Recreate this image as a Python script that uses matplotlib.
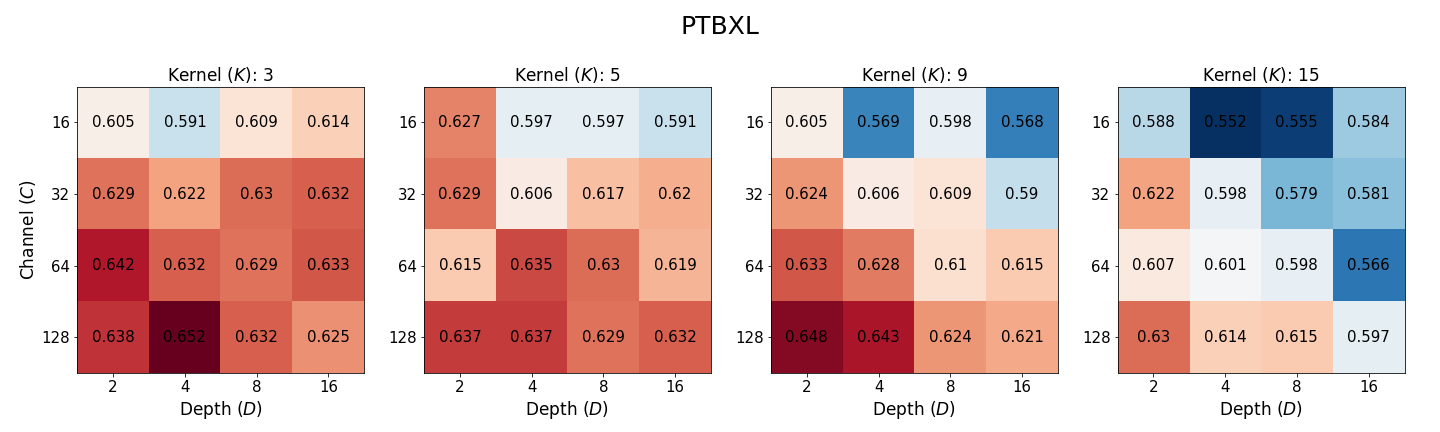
import matplotlib
matplotlib.use("Agg")
import matplotlib.pyplot as plt
import numpy as np

depths = ["2", "4", "8", "16"]
channels = ["16", "32", "64", "128"]
kernels = ["3", "5", "9", "15"]

k3 = [[0.605, 0.591, 0.609, 0.614],
      [0.629, 0.622, 0.63, 0.632],
      [0.642, 0.632, 0.629, 0.633],
      [0.638, 0.652, 0.632, 0.625]]
k5 = [[0.627, 0.597, 0.597, 0.591],
      [0.629, 0.606, 0.617, 0.62],
      [0.615, 0.635, 0.63, 0.619],
      [0.637, 0.637, 0.629, 0.632]]
k9 = [[0.605, 0.569, 0.598, 0.568],
      [0.624, 0.606, 0.609, 0.59],
      [0.633, 0.628, 0.61, 0.615],
      [0.648, 0.643, 0.624, 0.621]]
k15 = [[0.588, 0.552, 0.555, 0.584],
       [0.622, 0.598, 0.579, 0.581],
       [0.607, 0.601, 0.598, 0.566],
       [0.63, 0.614, 0.615, 0.597]]

data = [np.array(k3), np.array(k5), np.array(k9), np.array(k15)]
vmin = min(d.min() for d in data)
vmax = max(d.max() for d in data)

fig = plt.figure(figsize=(20, 6), dpi=72)
W, H = 1440, 432
lefts = [77.3, 424.0, 771.0, 1117.5]
aw, ah = 287.0, 286.3
top = 86.7

for i, (d, k) in enumerate(zip(data, kernels)):
    ax = fig.add_axes([lefts[i] / W, (H - top - ah) / H, aw / W, ah / H])
    ax.imshow(d, cmap="RdBu_r", vmin=vmin, vmax=vmax, aspect="auto")
    for r in range(d.shape[0]):
        for c in range(d.shape[1]):
            ax.text(c, r, f"{d[r, c]:g}", ha="center", va="center",
                    color="black", fontsize=15)
    ax.set_xticks(range(len(depths)))
    ax.set_xticklabels(depths, fontsize=15)
    ax.set_yticks(range(len(channels)))
    ax.set_yticklabels(channels, fontsize=15)
    ax.set_xlabel("Depth ($D$)", fontsize=17)
    if i == 0:
        ax.set_ylabel("Channel ($C$)", fontsize=17)
    ax.set_title(f"Kernel ($K$): {k}", fontsize=17)

fig.suptitle("PTBXL", fontsize=25, y=0.965)
fig.savefig("out.png", dpi=72)
